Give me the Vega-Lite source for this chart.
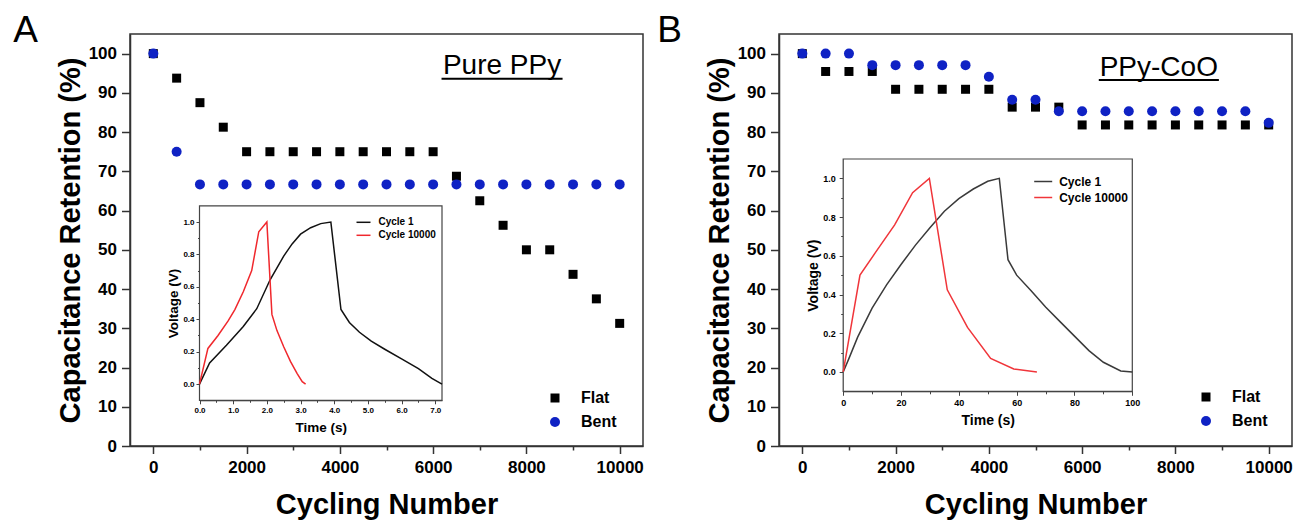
{
 "$schema": "https://vega.github.io/schema/vega-lite/v6.json",
 "padding": {"left": 12, "top": 11, "right": 0, "bottom": 0},
 "background": "white",
 "config": {
  "font": "Liberation Sans",
  "view": {"stroke": "#333", "strokeWidth": 1.5},
  "axis": {"grid": false, "labelColor": "#000", "titleColor": "#000", "labelFontWeight": "bold", "titleFontWeight": "bold", "labelOverlap": false, "labelBound": false, "labelFlush": false},
  "legend": {"padding": 0, "titleFontSize": 0}
 },
 "datasets": {
  "mainA": [
   {"cycle":0,"ret":100,"series":"Flat"},{"cycle":500,"ret":93.75,"series":"Flat"},{"cycle":1000,"ret":87.5,"series":"Flat"},{"cycle":1500,"ret":81.25,"series":"Flat"},{"cycle":2000,"ret":75,"series":"Flat"},{"cycle":2500,"ret":75,"series":"Flat"},{"cycle":3000,"ret":75,"series":"Flat"},{"cycle":3500,"ret":75,"series":"Flat"},{"cycle":4000,"ret":75,"series":"Flat"},{"cycle":4500,"ret":75,"series":"Flat"},{"cycle":5000,"ret":75,"series":"Flat"},{"cycle":5500,"ret":75,"series":"Flat"},{"cycle":6000,"ret":75,"series":"Flat"},{"cycle":6500,"ret":68.75,"series":"Flat"},{"cycle":7000,"ret":62.5,"series":"Flat"},{"cycle":7500,"ret":56.25,"series":"Flat"},{"cycle":8000,"ret":50,"series":"Flat"},{"cycle":8500,"ret":50,"series":"Flat"},{"cycle":9000,"ret":43.75,"series":"Flat"},{"cycle":9500,"ret":37.5,"series":"Flat"},{"cycle":10000,"ret":31.25,"series":"Flat"},
   {"cycle":0,"ret":100,"series":"Bent"},{"cycle":500,"ret":75,"series":"Bent"},{"cycle":1000,"ret":66.67,"series":"Bent"},{"cycle":1500,"ret":66.67,"series":"Bent"},{"cycle":2000,"ret":66.67,"series":"Bent"},{"cycle":2500,"ret":66.67,"series":"Bent"},{"cycle":3000,"ret":66.67,"series":"Bent"},{"cycle":3500,"ret":66.67,"series":"Bent"},{"cycle":4000,"ret":66.67,"series":"Bent"},{"cycle":4500,"ret":66.67,"series":"Bent"},{"cycle":5000,"ret":66.67,"series":"Bent"},{"cycle":5500,"ret":66.67,"series":"Bent"},{"cycle":6000,"ret":66.67,"series":"Bent"},{"cycle":6500,"ret":66.67,"series":"Bent"},{"cycle":7000,"ret":66.67,"series":"Bent"},{"cycle":7500,"ret":66.67,"series":"Bent"},{"cycle":8000,"ret":66.67,"series":"Bent"},{"cycle":8500,"ret":66.67,"series":"Bent"},{"cycle":9000,"ret":66.67,"series":"Bent"},{"cycle":9500,"ret":66.67,"series":"Bent"},{"cycle":10000,"ret":66.67,"series":"Bent"}
  ],
  "mainB": [
   {"cycle":0,"ret":100,"series":"Flat"},{"cycle":500,"ret":95.45,"series":"Flat"},{"cycle":1000,"ret":95.45,"series":"Flat"},{"cycle":1500,"ret":95.45,"series":"Flat"},{"cycle":2000,"ret":90.91,"series":"Flat"},{"cycle":2500,"ret":90.91,"series":"Flat"},{"cycle":3000,"ret":90.91,"series":"Flat"},{"cycle":3500,"ret":90.91,"series":"Flat"},{"cycle":4000,"ret":90.91,"series":"Flat"},{"cycle":4500,"ret":86.36,"series":"Flat"},{"cycle":5000,"ret":86.36,"series":"Flat"},{"cycle":5500,"ret":86.36,"series":"Flat"},{"cycle":6000,"ret":81.82,"series":"Flat"},{"cycle":6500,"ret":81.82,"series":"Flat"},{"cycle":7000,"ret":81.82,"series":"Flat"},{"cycle":7500,"ret":81.82,"series":"Flat"},{"cycle":8000,"ret":81.82,"series":"Flat"},{"cycle":8500,"ret":81.82,"series":"Flat"},{"cycle":9000,"ret":81.82,"series":"Flat"},{"cycle":9500,"ret":81.82,"series":"Flat"},{"cycle":10000,"ret":81.82,"series":"Flat"},
   {"cycle":0,"ret":100,"series":"Bent"},{"cycle":500,"ret":100,"series":"Bent"},{"cycle":1000,"ret":100,"series":"Bent"},{"cycle":1500,"ret":97.06,"series":"Bent"},{"cycle":2000,"ret":97.06,"series":"Bent"},{"cycle":2500,"ret":97.06,"series":"Bent"},{"cycle":3000,"ret":97.06,"series":"Bent"},{"cycle":3500,"ret":97.06,"series":"Bent"},{"cycle":4000,"ret":94.12,"series":"Bent"},{"cycle":4500,"ret":88.24,"series":"Bent"},{"cycle":5000,"ret":88.24,"series":"Bent"},{"cycle":5500,"ret":85.29,"series":"Bent"},{"cycle":6000,"ret":85.29,"series":"Bent"},{"cycle":6500,"ret":85.29,"series":"Bent"},{"cycle":7000,"ret":85.29,"series":"Bent"},{"cycle":7500,"ret":85.29,"series":"Bent"},{"cycle":8000,"ret":85.29,"series":"Bent"},{"cycle":8500,"ret":85.29,"series":"Bent"},{"cycle":9000,"ret":85.29,"series":"Bent"},{"cycle":9500,"ret":85.29,"series":"Bent"},{"cycle":10000,"ret":82.35,"series":"Bent"}
  ],
  "insetA": [
   {"t":0,"v":0,"cycle":"Cycle 1"},{"t":0.3,"v":0.13,"cycle":"Cycle 1"},{"t":0.8,"v":0.24,"cycle":"Cycle 1"},{"t":1.3,"v":0.355,"cycle":"Cycle 1"},{"t":1.7,"v":0.465,"cycle":"Cycle 1"},{"t":2.1,"v":0.645,"cycle":"Cycle 1"},{"t":2.5,"v":0.79,"cycle":"Cycle 1"},{"t":2.75,"v":0.865,"cycle":"Cycle 1"},{"t":3.0,"v":0.925,"cycle":"Cycle 1"},{"t":3.3,"v":0.965,"cycle":"Cycle 1"},{"t":3.6,"v":0.99,"cycle":"Cycle 1"},{"t":3.9,"v":1.0,"cycle":"Cycle 1"},{"t":4.2,"v":0.46,"cycle":"Cycle 1"},{"t":4.45,"v":0.38,"cycle":"Cycle 1"},{"t":4.75,"v":0.32,"cycle":"Cycle 1"},{"t":5.1,"v":0.265,"cycle":"Cycle 1"},{"t":5.5,"v":0.215,"cycle":"Cycle 1"},{"t":6.0,"v":0.155,"cycle":"Cycle 1"},{"t":6.5,"v":0.095,"cycle":"Cycle 1"},{"t":6.9,"v":0.035,"cycle":"Cycle 1"},{"t":7.2,"v":0.0,"cycle":"Cycle 1"},
   {"t":0,"v":0,"cycle":"Cycle 10000"},{"t":0.25,"v":0.22,"cycle":"Cycle 10000"},{"t":0.55,"v":0.3,"cycle":"Cycle 10000"},{"t":0.85,"v":0.39,"cycle":"Cycle 10000"},{"t":1.05,"v":0.46,"cycle":"Cycle 10000"},{"t":1.3,"v":0.57,"cycle":"Cycle 10000"},{"t":1.55,"v":0.7,"cycle":"Cycle 10000"},{"t":1.76,"v":0.94,"cycle":"Cycle 10000"},{"t":2.0,"v":1.0,"cycle":"Cycle 10000"},{"t":2.15,"v":0.43,"cycle":"Cycle 10000"},{"t":2.3,"v":0.33,"cycle":"Cycle 10000"},{"t":2.5,"v":0.23,"cycle":"Cycle 10000"},{"t":2.7,"v":0.14,"cycle":"Cycle 10000"},{"t":2.9,"v":0.065,"cycle":"Cycle 10000"},{"t":3.05,"v":0.015,"cycle":"Cycle 10000"},{"t":3.15,"v":0.0,"cycle":"Cycle 10000"}
  ],
  "insetB": [
   {"t":0,"v":0,"cycle":"Cycle 1"},{"t":2,"v":0.07,"cycle":"Cycle 1"},{"t":5,"v":0.18,"cycle":"Cycle 1"},{"t":10,"v":0.33,"cycle":"Cycle 1"},{"t":15,"v":0.45,"cycle":"Cycle 1"},{"t":20,"v":0.555,"cycle":"Cycle 1"},{"t":25,"v":0.655,"cycle":"Cycle 1"},{"t":30,"v":0.745,"cycle":"Cycle 1"},{"t":35,"v":0.83,"cycle":"Cycle 1"},{"t":40,"v":0.895,"cycle":"Cycle 1"},{"t":45,"v":0.945,"cycle":"Cycle 1"},{"t":50,"v":0.985,"cycle":"Cycle 1"},{"t":54,"v":1.0,"cycle":"Cycle 1"},{"t":57,"v":0.58,"cycle":"Cycle 1"},{"t":60,"v":0.5,"cycle":"Cycle 1"},{"t":65,"v":0.42,"cycle":"Cycle 1"},{"t":70,"v":0.335,"cycle":"Cycle 1"},{"t":75,"v":0.26,"cycle":"Cycle 1"},{"t":80,"v":0.185,"cycle":"Cycle 1"},{"t":85,"v":0.11,"cycle":"Cycle 1"},{"t":90,"v":0.05,"cycle":"Cycle 1"},{"t":96,"v":0.005,"cycle":"Cycle 1"},{"t":100,"v":0.0,"cycle":"Cycle 1"},
   {"t":0,"v":0,"cycle":"Cycle 10000"},{"t":5.8,"v":0.5,"cycle":"Cycle 10000"},{"t":11.3,"v":0.62,"cycle":"Cycle 10000"},{"t":17.8,"v":0.76,"cycle":"Cycle 10000"},{"t":24,"v":0.926,"cycle":"Cycle 10000"},{"t":29.8,"v":1.0,"cycle":"Cycle 10000"},{"t":36,"v":0.424,"cycle":"Cycle 10000"},{"t":43,"v":0.23,"cycle":"Cycle 10000"},{"t":51,"v":0.07,"cycle":"Cycle 10000"},{"t":59,"v":0.015,"cycle":"Cycle 10000"},{"t":67,"v":0.0,"cycle":"Cycle 10000"}
  ]
 },
 "resolve": {"scale": {"x": "independent", "y": "independent", "color": "independent", "shape": "independent", "size": "independent"}, "legend": {"color": "independent", "shape": "independent"}},
 "spacing": 11,
 "hconcat": [
  {
   "width": 513, "height": 412,
   "title": {"text": "A", "anchor": "start", "frame": "bounds", "fontSize": 37, "fontWeight": "normal", "dx": -43, "offset": -45, "baseline": "alphabetic", "color": "#000"},
   "layer": [
    {"layer": [
     {"data": {"name": "mainA"}, "mark": {"type": "point", "filled": true, "opacity": 1},
      "encoding": {
       "x": {"field": "cycle", "type": "quantitative", "scale": {"domain": [-500, 10500], "nice": false, "zero": false},
        "axis": {"title": "Cycling Number", "orient": "bottom", "values": [0,1000,2000,3000,4000,5000,6000,7000,8000,9000,10000], "format": "d", "labelExpr": "datum.value % 2000 === 0 ? datum.label : ''", "tickSize": {"condition": {"test": "datum.value % 2000 === 0", "value": 7.5}, "value": 4}, "tickWidth": 1.5, "tickColor": "#333", "domainColor": "#333", "domainWidth": 1.5, "labelFontSize": 17, "labelPadding": 6, "titleFontSize": 29, "titlePadding": 15}},
       "y": {"field": "ret", "type": "quantitative", "scale": {"domain": [0, 105], "nice": false, "zero": false},
        "axis": {"title": "Capacitance Retention (%)", "orient": "left", "values": [0,5,10,15,20,25,30,35,40,45,50,55,60,65,70,75,80,85,90,95,100], "format": "d", "labelExpr": "datum.value % 10 === 0 ? datum.label : ''", "tickSize": {"condition": {"test": "datum.value % 10 === 0", "value": 8.5}, "value": 4.5}, "tickWidth": 1.5, "tickColor": "#333", "domainColor": "#333", "domainWidth": 1.5, "labelFontSize": 17, "labelPadding": 5, "titleFontSize": 29, "titlePadding": 3}},
       "color": {"field": "series", "type": "nominal", "scale": {"domain": ["Flat", "Bent"], "range": ["#000000", "#0f22c4"]},
        "legend": {"title": null, "orient": "none", "legendX": 417, "legendY": 356, "labelFontSize": 16, "labelFontWeight": "bold", "labelColor": "#000", "labelOffset": 18, "rowPadding": 8, "symbolSize": 70, "symbolStrokeWidth": 0}},
       "shape": {"field": "series", "type": "nominal", "scale": {"domain": ["Flat", "Bent"], "range": ["square", "circle"]},
        "legend": {"title": null, "orient": "none", "legendX": 417, "legendY": 356, "labelFontSize": 16, "labelFontWeight": "bold", "labelColor": "#000", "labelOffset": 18, "rowPadding": 8, "symbolSize": 70, "symbolStrokeWidth": 0}},
       "size": {"field": "series", "type": "nominal", "scale": {"domain": ["Flat", "Bent"], "range": [81, 100]}, "legend": null}
      }},
     {"data": {"values": [{}]}, "mark": {"type": "text", "text": "Pure PPy", "fontSize": 28, "baseline": "alphabetic", "align": "center", "color": "#000"},
      "encoding": {"x": {"datum": 7477, "type": "quantitative"}, "y": {"datum": 94.8, "type": "quantitative"}}},
     {"data": {"values": [{}]}, "mark": {"type": "rule", "strokeWidth": 2, "color": "#000"},
      "encoding": {"x": {"datum": 6180, "type": "quantitative"}, "x2": {"datum": 8775}, "y": {"datum": 93.6, "type": "quantitative"}}}
    ]},
    {"layer": [
     {"data": {"values": [{}]}, "mark": {"type": "rect", "fill": "white", "stroke": "#444", "strokeWidth": 1.2},
      "encoding": {
       "x": {"datum": 0, "type": "quantitative", "scale": {"domain": [0, 7.2], "range": [69.5, 312], "nice": false, "zero": false},
        "axis": {"title": "Time (s)", "orient": "bottom", "offset": -45.7, "values": [0,0.5,1,1.5,2,2.5,3,3.5,4,4.5,5,5.5,6,6.5,7], "labelExpr": "datum.value % 1 === 0 ? datum.label : ''", "tickSize": {"condition": {"test": "datum.value % 1 === 0", "value": 3.5}, "value": 2}, "tickColor": "#444", "domainColor": "#444", "labelFontSize": 8, "labelPadding": 3, "titleFontSize": 13.5, "titlePadding": 6}},
       "x2": {"datum": 7.2},
       "y": {"datum": -0.1, "type": "quantitative", "scale": {"domain": [-0.1, 1.1], "range": [366.3, 171.8], "nice": false, "zero": false},
        "axis": {"title": "Voltage (V)", "orient": "left", "offset": -69.5, "values": [0,0.1,0.2,0.3,0.4,0.5,0.6,0.7,0.8,0.9,1.0], "format": ".1f", "labelExpr": "round(datum.value*10) % 2 === 0 ? datum.label : ''", "tickSize": {"condition": {"test": "round(datum.value*10) % 2 === 0", "value": 3.5}, "value": 2}, "tickColor": "#444", "domainColor": "#444", "labelFontSize": 8, "labelPadding": 2, "titleFontSize": 13.5, "titlePadding": 2}},
       "y2": {"datum": 1.1}
      }},
     {"data": {"name": "insetA"}, "mark": {"type": "line", "strokeWidth": 1.5},
      "encoding": {
       "x": {"field": "t", "type": "quantitative", "scale": {"domain": [0, 7.2], "range": [69.5, 312], "nice": false, "zero": false},
        "axis": {"title": "Time (s)", "orient": "bottom", "offset": -45.7, "values": [0,0.5,1,1.5,2,2.5,3,3.5,4,4.5,5,5.5,6,6.5,7], "labelExpr": "datum.value % 1 === 0 ? datum.label : ''", "tickSize": {"condition": {"test": "datum.value % 1 === 0", "value": 3.5}, "value": 2}, "tickColor": "#444", "domainColor": "#444", "labelFontSize": 8, "labelPadding": 3, "titleFontSize": 13.5, "titlePadding": 6}},
       "y": {"field": "v", "type": "quantitative", "scale": {"domain": [-0.1, 1.1], "range": [366.3, 171.8], "nice": false, "zero": false},
        "axis": {"title": "Voltage (V)", "orient": "left", "offset": -69.5, "values": [0,0.1,0.2,0.3,0.4,0.5,0.6,0.7,0.8,0.9,1.0], "format": ".1f", "labelExpr": "round(datum.value*10) % 2 === 0 ? datum.label : ''", "tickSize": {"condition": {"test": "round(datum.value*10) % 2 === 0", "value": 3.5}, "value": 2}, "tickColor": "#444", "domainColor": "#444", "labelFontSize": 8, "labelPadding": 2, "titleFontSize": 13.5, "titlePadding": 2}},
       "color": {"field": "cycle", "type": "nominal", "scale": {"domain": ["Cycle 1", "Cycle 10000"], "range": ["#111111", "#f0282d"]},
        "legend": {"title": null, "orient": "none", "legendX": 225.5, "legendY": 180.3, "labelFontSize": 10, "labelFontWeight": "bold", "labelColor": "#000", "symbolType": "stroke", "symbolSize": 196, "symbolStrokeWidth": 1.5, "labelOffset": 7, "rowPadding": -1.3}}
      }}
    ]}
   ],
   "resolve": {"scale": {"x": "independent", "y": "independent", "color": "independent", "shape": "independent", "size": "independent"}, "axis": {"x": "independent", "y": "independent"}, "legend": {"color": "independent", "shape": "independent", "size": "independent"}}
  },
  {
   "width": 513, "height": 412,
   "title": {"text": "B", "anchor": "start", "frame": "bounds", "fontSize": 37, "fontWeight": "normal", "dx": -48, "offset": -45, "baseline": "alphabetic", "color": "#000"},
   "layer": [
    {"layer": [
     {"data": {"name": "mainB"}, "mark": {"type": "point", "filled": true, "opacity": 1},
      "encoding": {
       "x": {"field": "cycle", "type": "quantitative", "scale": {"domain": [-500, 10500], "nice": false, "zero": false},
        "axis": {"title": "Cycling Number", "orient": "bottom", "values": [0,1000,2000,3000,4000,5000,6000,7000,8000,9000,10000], "format": "d", "labelExpr": "datum.value % 2000 === 0 ? datum.label : ''", "tickSize": {"condition": {"test": "datum.value % 2000 === 0", "value": 7.5}, "value": 4}, "tickWidth": 1.5, "tickColor": "#333", "domainColor": "#333", "domainWidth": 1.5, "labelFontSize": 17, "labelPadding": 6, "titleFontSize": 29, "titlePadding": 15}},
       "y": {"field": "ret", "type": "quantitative", "scale": {"domain": [0, 105], "nice": false, "zero": false},
        "axis": {"title": "Capacitance Retention (%)", "orient": "left", "values": [0,5,10,15,20,25,30,35,40,45,50,55,60,65,70,75,80,85,90,95,100], "format": "d", "labelExpr": "datum.value % 10 === 0 ? datum.label : ''", "tickSize": {"condition": {"test": "datum.value % 10 === 0", "value": 8.5}, "value": 4.5}, "tickWidth": 1.5, "tickColor": "#333", "domainColor": "#333", "domainWidth": 1.5, "labelFontSize": 17, "labelPadding": 5, "titleFontSize": 29, "titlePadding": 3}},
       "color": {"field": "series", "type": "nominal", "scale": {"domain": ["Flat", "Bent"], "range": ["#000000", "#0f22c4"]},
        "legend": {"title": null, "orient": "none", "legendX": 419, "legendY": 355, "labelFontSize": 16, "labelFontWeight": "bold", "labelColor": "#000", "labelOffset": 18, "rowPadding": 8, "symbolSize": 70, "symbolStrokeWidth": 0}},
       "shape": {"field": "series", "type": "nominal", "scale": {"domain": ["Flat", "Bent"], "range": ["square", "circle"]},
        "legend": {"title": null, "orient": "none", "legendX": 419, "legendY": 355, "labelFontSize": 16, "labelFontWeight": "bold", "labelColor": "#000", "labelOffset": 18, "rowPadding": 8, "symbolSize": 70, "symbolStrokeWidth": 0}},
       "size": {"field": "series", "type": "nominal", "scale": {"domain": ["Flat", "Bent"], "range": [81, 100]}, "legend": null}
      }},
     {"data": {"values": [{}]}, "mark": {"type": "text", "text": "PPy-CoO", "fontSize": 28, "baseline": "alphabetic", "align": "center", "color": "#000"},
      "encoding": {"x": {"datum": 7644, "type": "quantitative"}, "y": {"datum": 94.4, "type": "quantitative"}}},
     {"data": {"values": [{}]}, "mark": {"type": "rule", "strokeWidth": 2, "color": "#000"},
      "encoding": {"x": {"datum": 6357, "type": "quantitative"}, "x2": {"datum": 8932}, "y": {"datum": 93.3, "type": "quantitative"}}}
    ]},
    {"layer": [
     {"data": {"values": [{}]}, "mark": {"type": "rect", "fill": "white", "stroke": "#444", "strokeWidth": 1.2},
      "encoding": {
       "x": {"datum": 0, "type": "quantitative", "scale": {"domain": [0, 100], "range": [64.2, 353.3], "nice": false, "zero": false},
        "axis": {"title": "Time (s)", "orient": "bottom", "offset": -54.7, "values": [0,10,20,30,40,50,60,70,80,90,100], "labelExpr": "datum.value % 20 === 0 ? datum.label : ''", "tickSize": {"condition": {"test": "datum.value % 20 === 0", "value": 4}, "value": 2.5}, "tickColor": "#444", "domainColor": "#444", "labelFontSize": 9, "labelPadding": 3, "titleFontSize": 14, "titlePadding": 6}},
       "x2": {"datum": 100},
       "y": {"datum": -0.1, "type": "quantitative", "scale": {"domain": [-0.1, 1.1], "range": [357.3, 125], "nice": false, "zero": false},
        "axis": {"title": "Voltage (V)", "orient": "left", "offset": -64.2, "values": [0,0.1,0.2,0.3,0.4,0.5,0.6,0.7,0.8,0.9,1.0], "format": ".1f", "labelExpr": "round(datum.value*10) % 2 === 0 ? datum.label : ''", "tickSize": {"condition": {"test": "round(datum.value*10) % 2 === 0", "value": 4}, "value": 2.5}, "tickColor": "#444", "domainColor": "#444", "labelFontSize": 9, "labelPadding": 4, "titleFontSize": 14, "titlePadding": 2}},
       "y2": {"datum": 1.1}
      }},
     {"data": {"name": "insetB"}, "mark": {"type": "line", "strokeWidth": 1.5},
      "encoding": {
       "x": {"field": "t", "type": "quantitative", "scale": {"domain": [0, 100], "range": [64.2, 353.3], "nice": false, "zero": false},
        "axis": {"title": "Time (s)", "orient": "bottom", "offset": -54.7, "values": [0,10,20,30,40,50,60,70,80,90,100], "labelExpr": "datum.value % 20 === 0 ? datum.label : ''", "tickSize": {"condition": {"test": "datum.value % 20 === 0", "value": 4}, "value": 2.5}, "tickColor": "#444", "domainColor": "#444", "labelFontSize": 9, "labelPadding": 3, "titleFontSize": 14, "titlePadding": 6}},
       "y": {"field": "v", "type": "quantitative", "scale": {"domain": [-0.1, 1.1], "range": [357.3, 125], "nice": false, "zero": false},
        "axis": {"title": "Voltage (V)", "orient": "left", "offset": -64.2, "values": [0,0.1,0.2,0.3,0.4,0.5,0.6,0.7,0.8,0.9,1.0], "format": ".1f", "labelExpr": "round(datum.value*10) % 2 === 0 ? datum.label : ''", "tickSize": {"condition": {"test": "round(datum.value*10) % 2 === 0", "value": 4}, "value": 2.5}, "tickColor": "#444", "domainColor": "#444", "labelFontSize": 9, "labelPadding": 4, "titleFontSize": 14, "titlePadding": 2}},
       "color": {"field": "cycle", "type": "nominal", "scale": {"domain": ["Cycle 1", "Cycle 10000"], "range": ["#3a3a3a", "#f0353a"]},
        "legend": {"title": null, "orient": "none", "legendX": 254.2, "legendY": 137.5, "labelFontSize": 12, "labelFontWeight": "bold", "labelColor": "#000", "symbolType": "stroke", "symbolSize": 324, "symbolStrokeWidth": 1.5, "labelOffset": 6, "rowPadding": -3}}
      }}
    ]}
   ],
   "resolve": {"scale": {"x": "independent", "y": "independent", "color": "independent", "shape": "independent", "size": "independent"}, "axis": {"x": "independent", "y": "independent"}, "legend": {"color": "independent", "shape": "independent", "size": "independent"}}
  }
 ]
}
